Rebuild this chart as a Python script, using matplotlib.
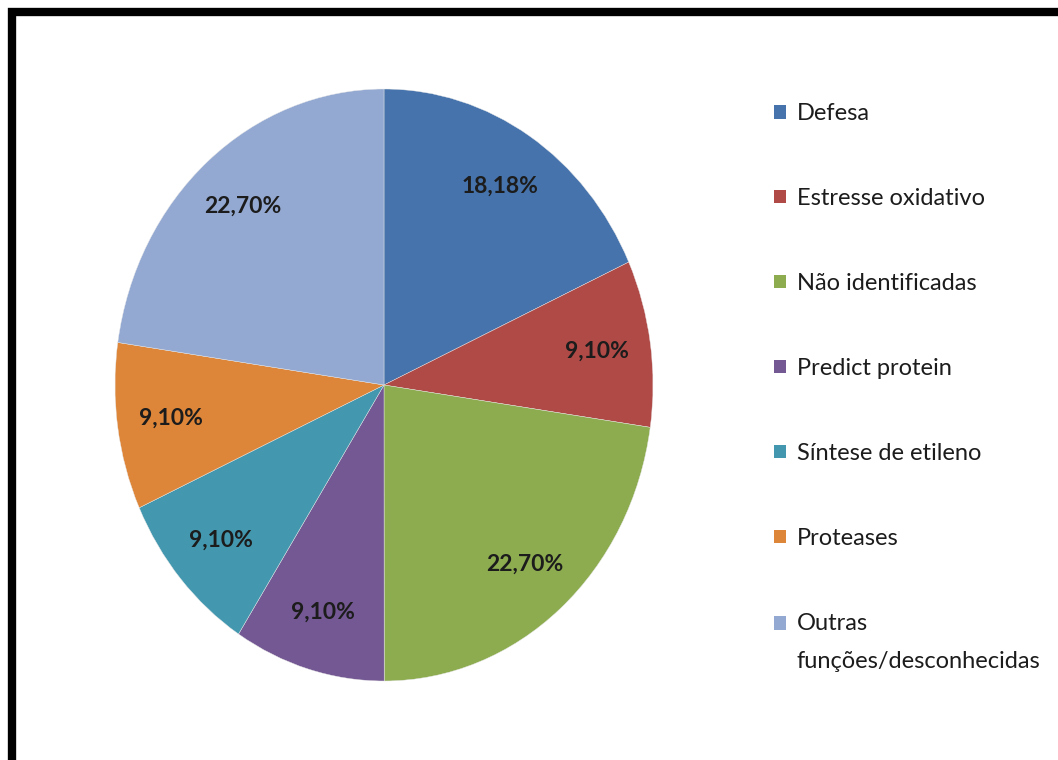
import matplotlib
matplotlib.use("Agg")
import matplotlib.pyplot as plt
from matplotlib.patches import Patch, Rectangle
from matplotlib.legend_handler import HandlerPatch

# categories and shares (%)
categorias = [
    "Defesa",
    "Estresse oxidativo",
    "Não identificadas",
    "Predict protein",
    "Síntese de etileno",
    "Proteases",
    "Outras\nfunções/desconhecidas",
]
valores = [18.18, 9.10, 22.70, 9.10, 9.10, 9.10, 22.70]
cores = ["#4673AC", "#B04A47", "#8DAC50", "#735893", "#4398AF", "#DD8539", "#93A9D2"]

W, H = 1058, 760
plt.rcParams["font.family"] = ["Lato", "DejaVu Sans"]

fig = plt.figure(figsize=(W / 100, H / 100), dpi=100)
fig.patch.set_facecolor("white")

# pie is slightly stretched vertically, so the axes box is not square
ax = fig.add_axes([115 / W, (H - 681) / H, 538 / W, 592 / H])
fmt = iter([f"{v:.2f}%".replace(".", ",") for v in valores])
wedges, _, autotexts = ax.pie(
    valores, colors=cores, startangle=90, counterclock=False,
    autopct=lambda p: next(fmt), pctdistance=0.8,
    wedgeprops=dict(edgecolor="#e8e8e8", linewidth=0.3),
    textprops=dict(fontsize=16.5, fontweight="bold", color="#1c1c1c"),
)
ax.set_aspect("auto")
ax.set_xlim(-1, 1)
ax.set_ylim(-1, 1)

LS = 1.99


def topo_quadrado(legend, orig_handle, xdescent, ydescent, width, height, fontsize):
    # keep the swatch next to the first text line
    n = orig_handle.get_label().count("\n")
    return Rectangle((-xdescent, -ydescent + n * fontsize * 0.82), width, height)


handles = [Patch(facecolor=c, edgecolor="none", label=l) for c, l in zip(cores, categorias)]
leg = fig.legend(
    handles=handles, loc="upper left", bbox_to_anchor=(774 / W, 1 - 103 / H),
    frameon=False, fontsize=17, handlelength=0.52, handleheight=0.52,
    handletextpad=0.45, labelspacing=2.71, borderpad=0, borderaxespad=0,
    handler_map={Patch: HandlerPatch(patch_func=topo_quadrado)},
)
for t in leg.get_texts():
    t.set_color("#1c1c1c")
    t.set_linespacing(LS)

# heavy outer frame
fig.patches.append(Rectangle((12 / W, -2 / H), (W + 20) / W, (H - 10) / H,
                             transform=fig.transFigure, fill=False,
                             edgecolor="black", linewidth=6))

fig.savefig("out.png", dpi=100)
